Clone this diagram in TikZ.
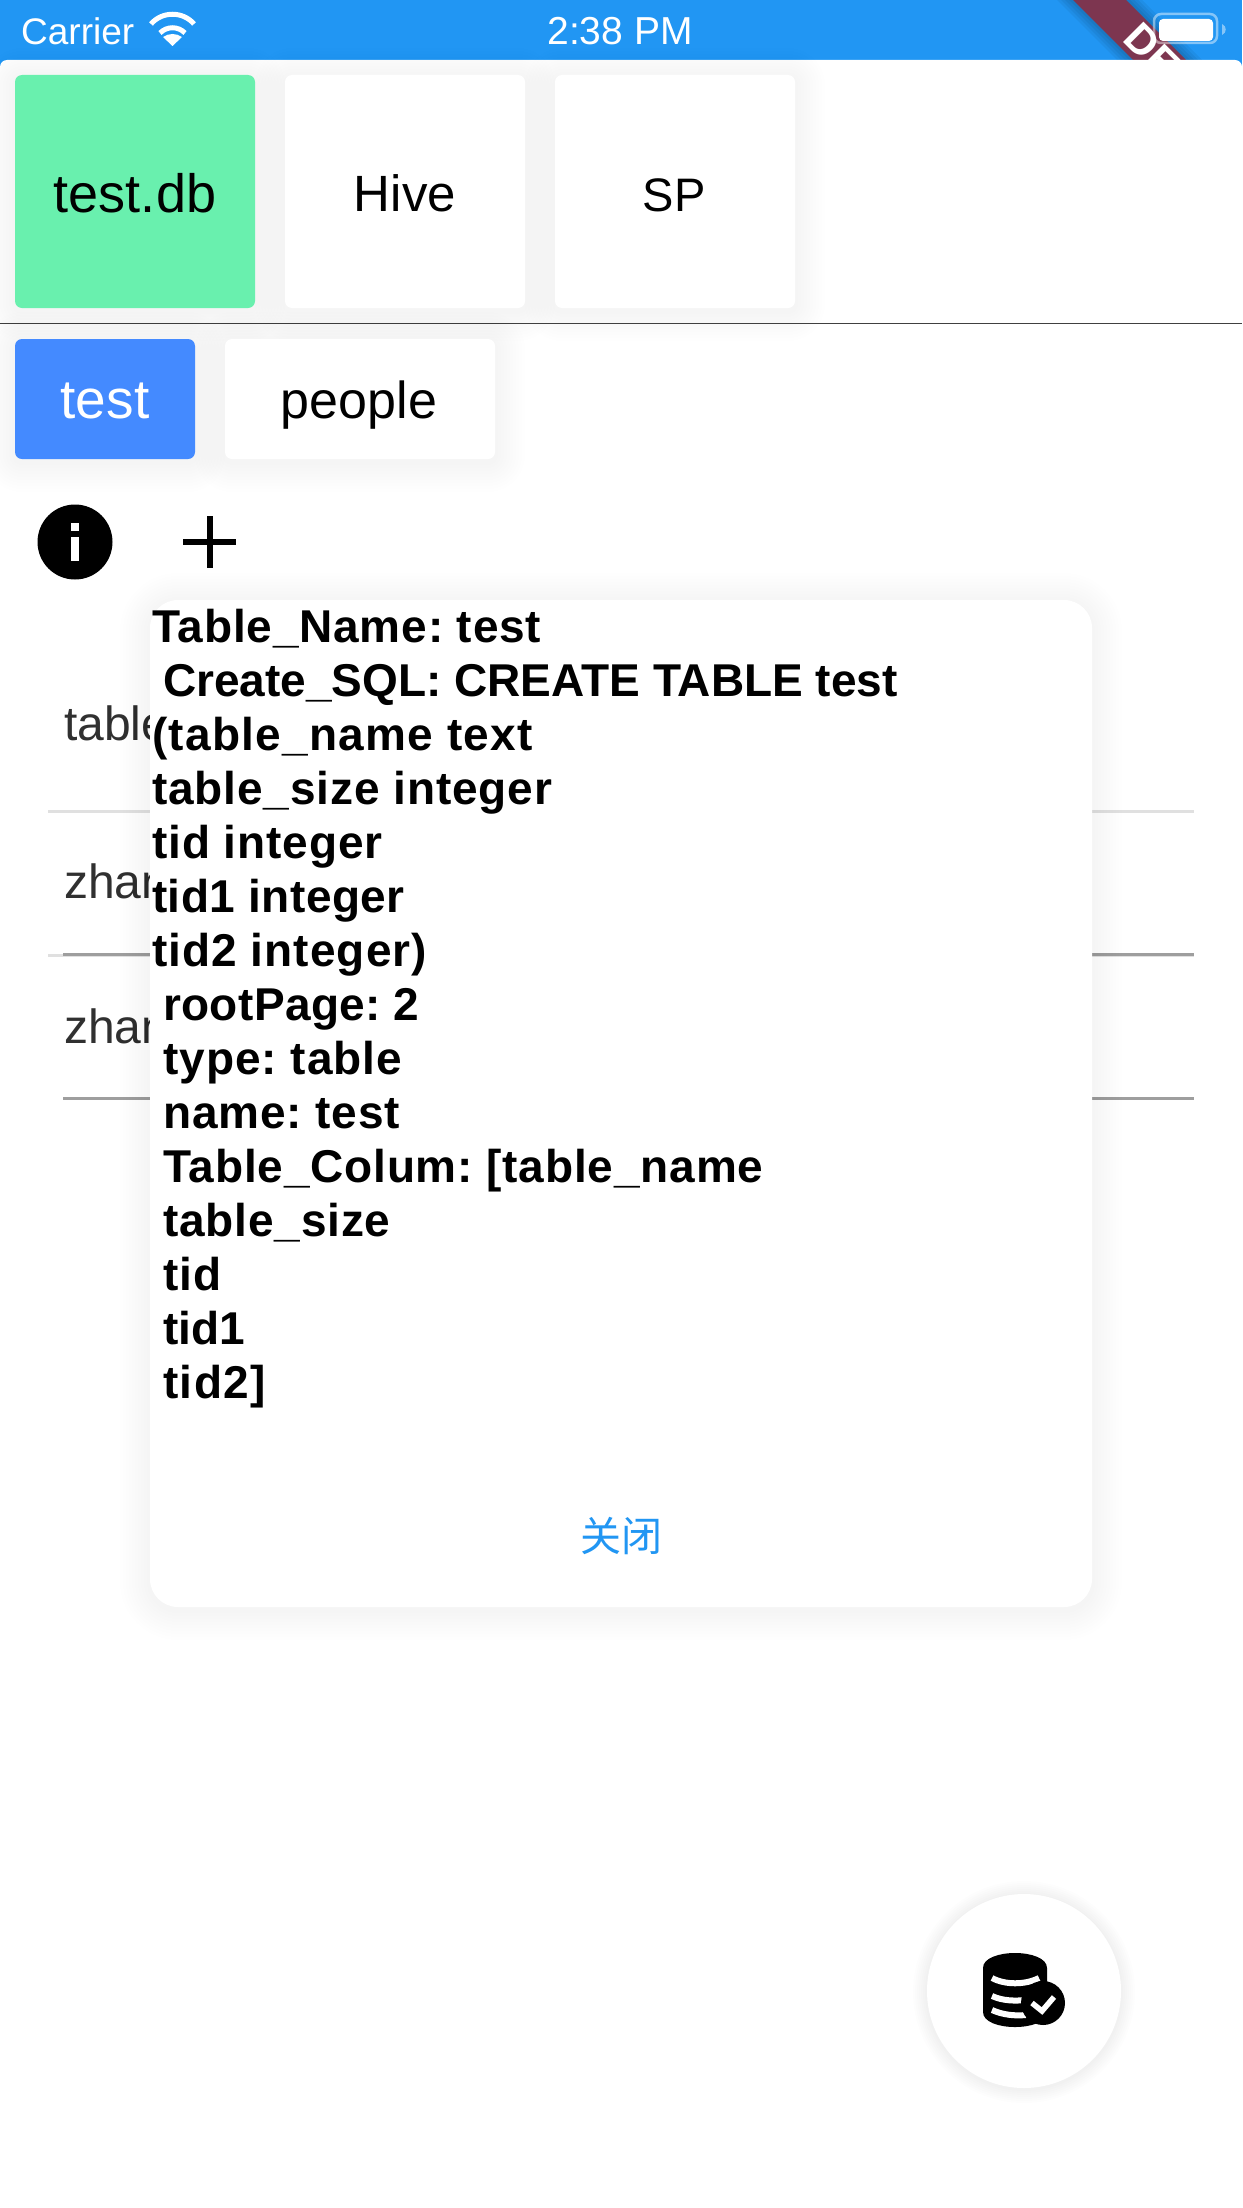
\documentclass[tikz,border=0pt]{standalone}
\usepackage{fontspec}
\setmainfont{Liberation Sans}
\newfontfamily\cjkfont{Noto Sans CJK SC}
\definecolor{barblue}{HTML}{2196F3}
\definecolor{chipgreen}{HTML}{69F0AE}
\definecolor{chipblue}{HTML}{448AFF}
\definecolor{bannerred}{HTML}{7D3650}
\definecolor{rowtext}{HTML}{303030}
\newcommand{\softrect}[5]{%
  \foreach \s in {30,27,...,3}{
    \fill[black,opacity=0.0035,rounded corners={(#5+\s)*1pt}] (#1-\s,#2-\s+3) rectangle (#3+\s,#4+\s+3);
  }}
\newcommand{\softround}[3]{%
  \foreach \s in {14,12,...,2}{
    \fill[black,opacity=0.006] (#1,#2+1) circle ({(#3+\s)*1pt});
  }}
\newcommand{\trk}[1]{\addfontfeature{LetterSpace=#1}}
\tikzset{
  box/.style={draw=none,inner sep=0pt,rounded corners=7pt},
  lab/.style={anchor=base,inner sep=0pt,font=\fontsize{#1}{#1}\selectfont},
  lab/.default=50,
  rowlab/.style={anchor=base west,inner sep=0pt,text=rowtext,font=\fontsize{48}{48}\selectfont},
  dlg/.style={anchor=base west,inner sep=0pt,text=black,font=\fontsize{46}{46}\selectfont\bfseries},
  status/.style={anchor=base,inner sep=0pt,text=white},
  rowline/.style={line width=3pt},
}
\begin{document}
\frenchspacing
\begin{tikzpicture}[x=1pt,y=-1pt]
\useasboundingbox (0,0) rectangle (1242,2208);
% status bar
\fill[barblue] (0,0) rectangle (1242,70);
\foreach \s in {16,12,8,4}{
  \fill[black,opacity=0.05] (1073-\s,0) -- (1126+\s,0) -- (1196+\s,70) -- (1143-\s,70) -- cycle;
}
\fill[bannerred] (1073,0) -- (1126,0) -- (1196,70) -- (1143,70) -- cycle;
\node[rotate=-45,inner sep=0pt,text=white,font=\fontsize{42}{42}\selectfont\bfseries] (banner) at (1152,51) {DE};
\node[status,font=\fontsize{37}{37}\selectfont,anchor=base west] (carrier) at (21,45) {Carrier};
\node[status,font=\fontsize{39}{39}\selectfont] (clock) at (620,45) {2:38 PM};
\draw[white,line width=5pt] (151,24) .. controls (162,11) and (183,11) .. (194,24);
\draw[white,line width=5pt] (160,33) .. controls (167,26) and (178,26) .. (185,33);
\fill[white] (163,37) -- (172.5,46) -- (182,37) .. controls (176,33) and (169,33) .. (163,37) -- cycle;
\draw[white,opacity=0.45,line width=2.5pt,rounded corners=7pt] (1154,14) rectangle (1217,43);
\fill[white,rounded corners=4pt] (1159,19) rectangle (1213,41);
\fill[white,opacity=0.45] (1222,24) .. controls (1227,26) and (1227,33) .. (1222,35) -- cycle;
% sheet
\fill[white,rounded corners=7pt] (0,60) rectangle (1242,2260);
% top chips
\softrect{15}{75}{255}{308}{7}
\softrect{285}{75}{525}{308}{7}
\softrect{555}{75}{795}{308}{7}
\node[box,fill=chipgreen,minimum width=240pt,minimum height=233pt] (dbchip) at (135,191.5) {};
\node[box,fill=white,minimum width=240pt,minimum height=233pt] (hivechip) at (405,191.5) {};
\node[box,fill=white,minimum width=240pt,minimum height=233pt] (spchip) at (675,191.5) {};
\node[lab=54] (dbtext) at (135,212) {test.db};
\node[lab=51] (hivetext) at (405,211) {Hive};
\node[lab=47] (sptext) at (674,211) {SP};
\draw[line width=1.5pt,color=black!75] (0,323.5) -- (1242,323.5);
% second chips
\softrect{15}{339}{195}{459}{7}
\softrect{225}{339}{495}{459}{7}
\node[box,fill=chipblue,minimum width=180pt,minimum height=120pt] (testchip) at (105,399) {};
\node[box,fill=white,minimum width=270pt,minimum height=120pt] (peoplechip) at (360,399) {};
\node[lab=55,text=white] (testtext) at (105,418) {test};
\node[lab=52] (peopletext) at (359,418) {people};
% info and plus
\node[circle,fill=black,minimum size=75pt,inner sep=0pt] (info) at (75,542) {};
\fill[white] (71,523) rectangle (79,531);
\fill[white] (71,537) rectangle (79,561);
\fill[black] (183,539) rectangle (236,545);
\fill[black] (207,516) rectangle (213,568);
% rows behind
\node[rowlab] (row1) at (64,740) {table};
\node[rowlab] (row2) at (64,898) {zhan};
\node[rowlab] (row3) at (64,1043) {zhan};
\draw[rowline,color=black!12] (48,811) -- (1194,811);
\draw[rowline,color=black!12] (48,955) -- (1194,955);
\draw[rowline,color=black!38] (63,954) -- (1194,954);
\draw[rowline,color=black!38] (63,1098) -- (1194,1098);
% dialog
\softrect{150}{600}{1092}{1607}{28}
\node[box,fill=white,rounded corners=28pt,minimum width=942pt,minimum height=1007pt] (dialog) at (621,1103.5) {};
\node[dlg] (d1) at (152,642.5) {\trk{1.8}Table\_Name: test};
\node[dlg] (d2) at (163,696.5) {Create\_SQL: CREATE TABLE test};
\node[dlg] (d3) at (152,750.5) {\trk{2.7}(table\_name text};
\node[dlg] (d4) at (152,804.5) {\trk{1.9}table\_size integer};
\node[dlg] (d5) at (152,858.5) {\trk{2}tid integer};
\node[dlg] (d6) at (152,912.5) {\trk{1}tid1 integer};
\node[dlg] (d7) at (152,966.5) {\trk{2.3}tid2 integer)};
\node[dlg] (d8) at (163,1020.5) {\trk{0.8}rootPage: 2};
\node[dlg] (d9) at (163,1074.5) {\trk{2.2}type: table};
\node[dlg] (d10) at (163,1128.5) {\trk{1.8}name: test};
\node[dlg] (d11) at (163,1182.5) {\trk{1.8}Table\_Colum: [table\_name};
\node[dlg] (d12) at (163,1236.5) {\trk{1.8}table\_size};
\node[dlg] (d13) at (163,1290.5) {\trk{2}tid};
\node[dlg] (d14) at (163,1344.5) {tid1};
\node[dlg] (d15) at (163,1398.5) {\trk{3}tid2]};
\node[inner sep=0pt,text=barblue,font=\fontsize{41}{41}\cjkfont] (close) at (621,1536) {关闭};
% fab
\softround{1024}{1991}{97}
\node[circle,fill=white,minimum size=194pt,inner sep=0pt] (fab) at (1024,1991) {};
\fill[black] (983,1968) .. controls (983,1948) and (1047,1948) .. (1047,1968) -- (1047,2012) .. controls (1047,2032) and (983,2032) .. (983,2012) -- cycle;
\draw[white,line width=6pt] (992,1978) .. controls (1005,1985) and (1025,1985) .. (1039,1978);
\draw[white,line width=6pt] (992,1996) .. controls (1003,2001) and (1015,2001) .. (1026,2000);
\draw[white,line width=6pt] (992,2010) .. controls (1003,2015) and (1015,2016) .. (1026,2015);
\fill[black] (1043,2003) circle (22pt);
\draw[white,line width=5.5pt] (1032,2003) -- (1042,2011) -- (1054,1997);
\end{tikzpicture}
\end{document}
